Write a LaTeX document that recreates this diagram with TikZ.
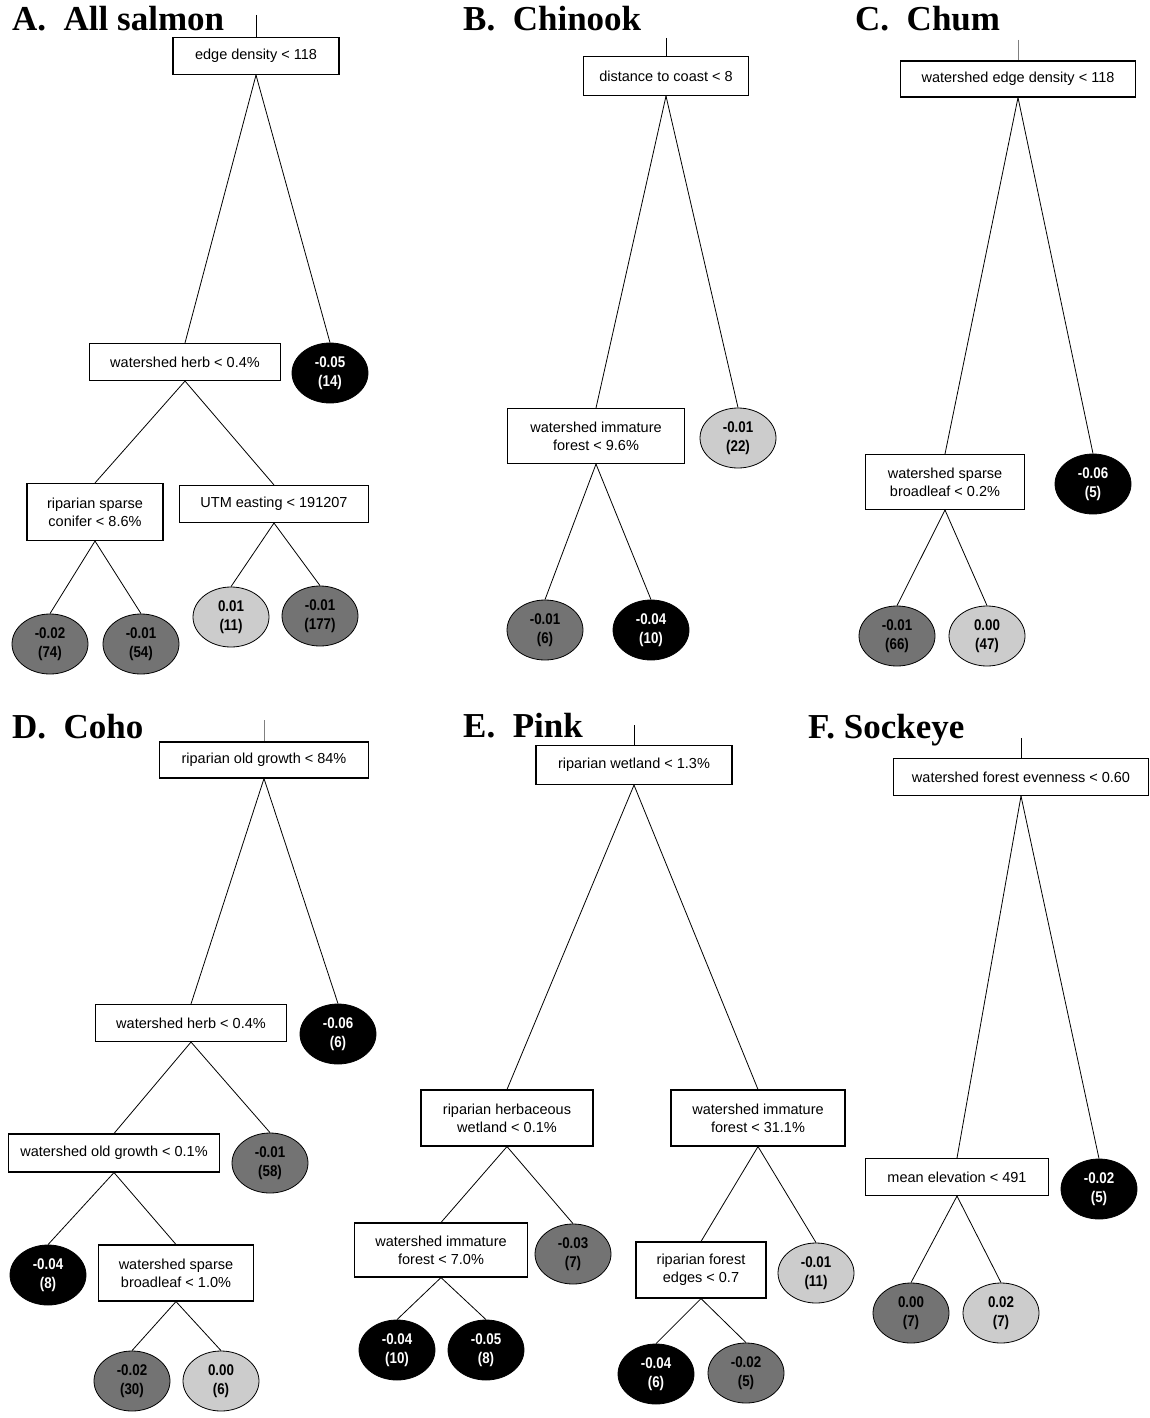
\documentclass[tikz,border=0pt]{standalone}
\usepackage{fontspec}
\setmainfont{Liberation Sans}
\newfontfamily\titlefont{Liberation Serif}
\newfontfamily\leaffont[FakeStretch=0.86]{Liberation Sans}
\usetikzlibrary{calc,shapes.geometric}
\definecolor{leafdark}{gray}{0.45}
\definecolor{leaflight}{gray}{0.8}

\begin{document}
\begin{tikzpicture}[x=1pt,y=-1pt,
   split/.style={draw,line width=1.1pt,fill=white,align=center,inner sep=2pt,minimum height=37pt,font=\fontsize{14.5}{18}\selectfont},
   leaf/.style={ellipse,draw,line width=0.8pt,minimum width=76pt,minimum height=60pt,inner sep=0pt,align=center,font=\leaffont\bfseries\fontsize{15.5}{19}\selectfont},
   hi/.style={leaf,fill=leaflight},
   mid/.style={leaf,fill=leafdark},
   lo/.style={leaf,fill=black,text=white},
   title/.style={anchor=base west,inner sep=0pt,font=\titlefont\bfseries\fontsize{35}{40}\selectfont},
   branch/.style={line width=0.8pt}]
   \useasboundingbox (0,0) rectangle (1150,1418);

   \node[title] (ta) at (12,31) {A.~~All salmon};
   \node[split,minimum width=166pt] (a0) at (256,56) {edge density < 118};
   \node[split,minimum width=191pt] (a1) at (185,362) {watershed herb < 0.4\%};
   \node[lo] (a2) at (330,373) {-0.05\\(14)};
   \node[split,minimum width=136pt,minimum height=57pt] (a3) at (95,512) {riparian sparse\\conifer < 8.6\%};
   \node[split,minimum width=189pt] (a4) at (274,504) {UTM easting < 191207};
   \node[mid] (a5) at (50,644) {-0.02\\(74)};
   \node[mid] (a6) at (141,644) {-0.01\\(54)};
   \node[hi] (a7) at (231,617) {0.01\\(11)};
   \node[mid] (a8) at (320,616) {-0.01\\(177)};
   \coordinate (a) at (256,15);
   \draw[branch] (a) -- (a0.north);
   \draw[branch] (a0.south) -- (a1.north);
   \draw[branch] (a0.south) -- (a2.north);
   \draw[branch] (a1.south) -- (a3.north);
   \draw[branch] (a1.south) -- (a4.north);
   \draw[branch] (a3.south) -- (a5.north);
   \draw[branch] (a3.south) -- (a6.north);
   \draw[branch] (a4.south) -- (a7.north);
   \draw[branch] (a4.south) -- (a8.north);

   \node[title] (tb) at (463,31) {B.~~Chinook};
   \node[split,minimum width=165pt,minimum height=39pt] (b0) at (666,76) {distance to coast < 8};
   \node[split,minimum width=177pt,minimum height=55pt] (b1) at (596,436) {watershed immature\\forest < 9.6\%};
   \node[hi] (b2) at (738,438) {-0.01\\(22)};
   \node[mid] (b3) at (545,630) {-0.01\\(6)};
   \node[lo] (b4) at (651,630) {-0.04\\(10)};
   \coordinate (b) at (666,38);
   \draw[branch] (b) -- (b0.north);
   \draw[branch] (b0.south) -- (b1.north);
   \draw[branch] (b0.south) -- (b2.north);
   \draw[branch] (b1.south) -- (b3.north);
   \draw[branch] (b1.south) -- (b4.north);

   \node[title] (tc) at (855,31) {C.~~Chum};
   \node[split,minimum width=235pt,minimum height=36pt] (c0) at (1018,79) {watershed edge density < 118};
   \node[split,minimum width=159pt,minimum height=55pt] (c1) at (945,482) {watershed sparse\\broadleaf < 0.2\%};
   \node[lo] (c2) at (1093,484) {-0.06\\(5)};
   \node[mid] (c3) at (897,636) {-0.01\\(66)};
   \node[hi] (c4) at (987,636) {0.00\\(47)};
   \coordinate (c) at (1018,40);
   \draw[branch,gray] (c) -- (c0.north);
   \draw[branch] (c0.south) -- (c1.north);
   \draw[branch] (c0.south) -- (c2.north);
   \draw[branch] (c1.south) -- (c3.north);
   \draw[branch] (c1.south) -- (c4.north);

   \node[title] (td) at (12,738) {D.~~Coho};
   \node[split,minimum width=209pt,minimum height=36pt] (d0) at (264,760) {riparian old growth < 84\%};
   \node[split,minimum width=191pt] (d1) at (191,1023) {watershed herb < 0.4\%};
   \node[lo] (d2) at (338,1034) {-0.06\\(6)};
   \node[split,minimum width=211pt,minimum height=38pt] (d3) at (114,1153) {watershed old growth < 0.1\%};
   \node[mid] (d4) at (270,1163) {-0.01\\(58)};
   \node[lo] (d5) at (48,1275) {-0.04\\(8)};
   \node[split,minimum width=155pt,minimum height=56pt] (d6) at (176,1273) {watershed sparse\\broadleaf < 1.0\%};
   \node[mid] (d7) at (132,1381) {-0.02\\(30)};
   \node[hi] (d8) at (221,1381) {0.00\\(6)};
   \coordinate (d) at (264,720);
   \draw[branch,gray] (d) -- (d0.north);
   \draw[branch] (d0.south) -- (d1.north);
   \draw[branch] (d0.south) -- (d2.north);
   \draw[branch] (d1.south) -- (d3.north);
   \draw[branch] (d1.south) -- (d4.north);
   \draw[branch] (d3.south) -- (d5.north);
   \draw[branch] (d3.south) -- (d6.north);
   \draw[branch] (d6.south) -- (d7.north);
   \draw[branch] (d6.south) -- (d8.north);

   \node[title] (te) at (463,737) {E.~~Pink};
   \node[split,minimum width=196pt,minimum height=39pt] (e0) at (634,765) {riparian wetland < 1.3\%};
   \node[split,minimum width=172pt,minimum height=56pt] (e1) at (507,1118) {riparian herbaceous\\wetland < 0.1\%};
   \node[split,minimum width=174pt,minimum height=56pt] (e2) at (758,1118) {watershed immature\\forest < 31.1\%};
   \node[split,minimum width=173pt,minimum height=54pt] (e3) at (441,1250) {watershed immature\\forest < 7.0\%};
   \node[mid] (e4) at (573,1254) {-0.03\\(7)};
   \node[lo] (e5) at (397,1350) {-0.04\\(10)};
   \node[lo] (e6) at (486,1350) {-0.05\\(8)};
   \node[split,minimum width=130pt,minimum height=56pt] (e7) at (701,1270) {riparian forest\\edges < 0.7};
   \node[hi] (e8) at (816,1273) {-0.01\\(11)};
   \node[lo] (e9) at (656,1374) {-0.04\\(6)};
   \node[mid] (e10) at (746,1373) {-0.02\\(5)};
   \coordinate (e) at (634,725);
   \draw[branch] (e) -- (e0.north);
   \draw[branch] (e0.south) -- (e1.north);
   \draw[branch] (e0.south) -- (e2.north);
   \draw[branch] (e1.south) -- (e3.north);
   \draw[branch] (e1.south) -- (e4.north);
   \draw[branch] (e3.south) -- (e5.north);
   \draw[branch] (e3.south) -- (e6.north);
   \draw[branch] (e2.south) -- (e7.north);
   \draw[branch] (e2.south) -- (e8.north);
   \draw[branch] (e7.south) -- (e9.north);
   \draw[branch] (e7.south) -- (e10.north);

   \node[title] (tf) at (808,738) {F. Sockeye};
   \node[split,minimum width=255pt] (f0) at (1021,777) {watershed forest evenness < 0.60};
   \node[split,minimum width=183pt] (f1) at (957,1177) {mean elevation < 491};
   \node[lo] (f2) at (1099,1189) {-0.02\\(5)};
   \node[mid] (f3) at (911,1313) {0.00\\(7)};
   \node[hi] (f4) at (1001,1313) {0.02\\(7)};
   \coordinate (f) at (1021,738);
   \draw[branch] (f) -- (f0.north);
   \draw[branch] (f0.south) -- (f1.north);
   \draw[branch] (f0.south) -- (f2.north);
   \draw[branch] (f1.south) -- (f3.north);
   \draw[branch] (f1.south) -- (f4.north);
\end{tikzpicture}
\end{document}
